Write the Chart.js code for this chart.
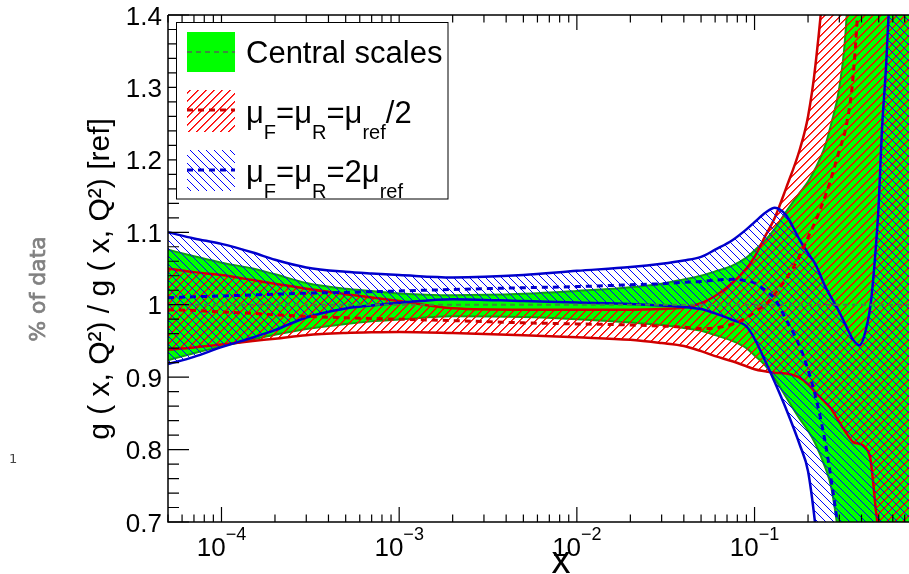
<!DOCTYPE html>
<html><head><meta charset="utf-8">
<script src="https://cdn.jsdelivr.net/npm/chart.js@4.4.0/dist/chart.umd.min.js"></script>
<style>html,body{margin:0;padding:0;background:#fff;overflow:hidden}#wrap{position:relative;width:909px;height:574px}</style>
</head><body><div id="wrap"><canvas id="c" width="909" height="574"></canvas></div>
<script>
// ---- data ----
const xGrid = [5e-5,7e-5,1e-4,1.5e-4,2e-4,3e-4,5e-4,7e-4,1e-3,2e-3,5e-3,1e-2,2e-2,3e-2,4e-2,5e-2,6e-2,7.5e-2,0.09,0.1,0.115,0.13,0.15,0.18,0.2,0.22,0.25,0.27,0.3,0.33,0.36,0.39,0.42,0.45,0.48,0.5,0.52,0.55,0.6,0.74];
const greenUp  = [1.076,1.067,1.058,1.050,1.042,1.030,1.022,1.019,1.0155,1.013,1.015,1.019,1.024,1.029,1.035,1.040,1.046,1.054,1.065,1.075,1.089,1.105,1.128,1.155,1.170,1.188,1.22,1.25,1.30,1.40,1.65,1.9,2.0,2.0,2.0,2.0,2.0,2.0,2.0,2.0];
const greenLo  = [0.9234,0.933,0.9425,0.952,0.9585,0.9665,0.9735,0.977,0.9795,0.984,0.983,0.980,0.9755,0.972,0.968,0.964,0.958,0.950,0.940,0.930,0.916,0.898,0.873,0.842,0.826,0.808,0.775,0.748,0.67,0.55,0.4,0.4,0.4,0.4,0.4,0.4,0.4,0.4,0.4,0.4];
const greenMid = [1,1,1,1,1,1,1,1,1,1,1,1,1,1,1,1,1,1,1,1,1,1,1,1,1,1,1,1,1,1,1,1,1,1,1,1,1,1,1,1];
const redUp    = [1.050,1.045,1.041,1.034,1.029,1.022,1.0146,1.010,1.005,0.995,0.993,0.993,0.993,0.994,0.996,1.002,1.012,1.030,1.050,1.066,1.095,1.120,1.160,1.215,1.260,1.33,1.48,1.65,1.9,2.0,2.0,2.0,2.0,2.0,2.0,2.0,2.0,2.0,2.0,2.0];
const redLo    = [0.938,0.941,0.945,0.950,0.953,0.958,0.961,0.962,0.9625,0.961,0.958,0.955,0.9515,0.947,0.943,0.936,0.929,0.922,0.915,0.911,0.908,0.906,0.905,0.899,0.890,0.879,0.865,0.856,0.838,0.822,0.810,0.808,0.803,0.785,0.72,0.68,0.6,0.5,0.4,0.3];
const redMid   = [0.993,0.992,0.990,0.988,0.986,0.984,0.982,0.981,0.980,0.978,0.975,0.9735,0.972,0.9705,0.969,0.967,0.968,0.973,0.982,0.990,1.0,1.015,1.035,1.068,1.093,1.115,1.15,1.175,1.213,1.25,1.32,1.46,1.7,2.0,2.0,2.0,2.0,2.0,2.0,2.0];
const blueUp   = [1.100,1.0915,1.084,1.072,1.062,1.0515,1.0454,1.043,1.041,1.0377,1.041,1.0468,1.052,1.0565,1.061,1.066,1.076,1.089,1.104,1.114,1.127,1.134,1.124,1.089,1.071,1.056,1.025,1.01,0.99,0.969,0.951,0.944,0.962,1.0,1.075,1.14,1.237,1.33,1.52,2.0];
const blueLo   = [0.918,0.928,0.9414,0.9548,0.9649,0.9824,0.9948,0.999,1.0026,1.0077,1.005,1.003,1.001,0.999,0.997,0.994,0.988,0.979,0.970,0.953,0.922,0.893,0.857,0.806,0.770,0.695,0.56,0.45,0.4,0.4,0.4,0.4,0.4,0.4,0.4,0.4,0.4,0.4,0.4,0.4];
const blueMid  = [1.0095,1.011,1.012,1.0135,1.0145,1.016,1.017,1.018,1.019,1.021,1.0235,1.025,1.0275,1.029,1.031,1.032,1.034,1.035,1.033,1.03,1.02,1.008,0.98,0.942,0.91,0.874,0.81,0.758,0.675,0.55,0.4,0.4,0.4,0.4,0.4,0.4,0.4,0.4,0.4,0.4];
const yTickVals   = [0.7,0.8,0.9,1.0,1.1,1.2,1.3,1.4];
const yTickLabels = ['0.7','0.8','0.9','1','1.1','1.2','1.3','1.4'];
const xDecades    = [1e-4,1e-3,1e-2,1e-1];
const xDecadeExp  = ['\u22124','\u22123','\u22122','\u22121'];
const legendLabels = ['Central scales'];

const FONT = '"Liberation Sans", Arial, Helvetica, sans-serif';
const canvas = document.getElementById('c');
const ctx = canvas.getContext('2d');

function hatch(r, g0, b, dir, soft){
  const s = 8, c = document.createElement('canvas'); c.width = s; c.height = s;
  const g = c.getContext('2d');
  for (let i = 0; i < s; i++) {
    const y = dir > 0 ? s - 1 - i : i;
    g.fillStyle = `rgb(${r},${g0},${b})`; g.fillRect(i, y, 1, 1);
    if (soft > 0) { g.fillStyle = `rgba(${r},${g0},${b},${soft})`; g.fillRect((i + 1) % s, y, 1, 1); }
  }
  return ctx.createPattern(c, 'repeat');
}
const redHatch = hatch(255, 0, 0, 1, 0.75);
const blueHatch = hatch(0, 0, 255, -1, 0);

const pts = arr => xGrid.map((x,i)=>({x, y: arr[i]}));
const base = {pointRadius:0, cubicInterpolationMode:'monotone', clip:0, fill:false};

const datasets = [
  {...base, label:'gUp', data:pts(greenUp), borderColor:'#10a010', borderWidth:2, backgroundColor:'#00ff00', fill:1, order:30},
  {...base, label:'gLo', data:pts(greenLo), borderColor:'#10a010', borderWidth:2, order:29},
  {...base, label:'rUp', data:pts(redUp), borderColor:'#d00000', borderWidth:2.5, backgroundColor:redHatch, fill:3, order:28},
  {...base, label:'rLo', data:pts(redLo), borderColor:'#d00000', borderWidth:2.5, order:27},
  {...base, label:'bUp', data:pts(blueUp), borderColor:'#0000cc', borderWidth:2.5, backgroundColor:blueHatch, fill:5, order:26},
  {...base, label:'bLo', data:pts(blueLo), borderColor:'#0000cc', borderWidth:2.5, order:25},
  {...base, label:'gMid', data:pts(greenMid), borderColor:'#3d8b3d', borderWidth:2, borderDash:[5,4], order:24},
  {...base, label:'rMid', data:pts(redMid), borderColor:'#cc0000', borderWidth:3, borderDash:[6,5], order:23},
  {...base, label:'bMid', data:pts(blueMid), borderColor:'#0000cc', borderWidth:3, borderDash:[6,5], order:22}
];

function rich(c, parts, x, y, mainF, subF, off){
  for (const [t, sub] of parts){
    c.font = sub ? subF : mainF;
    c.fillText(t, x, y + (sub ? off : 0));
    x += c.measureText(t).width;
  }
}

const overlay = {
  id:'overlay',
  afterDraw(chart){
    const c = chart.ctx, a = chart.chartArea, xs = chart.scales.x, ys = chart.scales.y;
    c.save();
    c.strokeStyle = '#000'; c.lineWidth = 1.5; c.setLineDash([]);
    c.beginPath();
    c.moveTo(a.left, a.top); c.lineTo(a.left, a.bottom); c.lineTo(a.right, a.bottom);
    c.moveTo(a.left, a.top); c.lineTo(a.right, a.top);
    c.stroke();
    c.lineWidth = 1.2;
    c.beginPath();
    for (let k = 0; k <= 35; k++){
      const v = 0.7 + k*0.02; const py = ys.getPixelForValue(v);
      const len = (k % 5 === 0) ? 21 : 11;
      c.moveTo(a.left, py); c.lineTo(a.left + len, py);
    }
    for (let e = -5; e <= 0; e++){
      for (let m = 1; m <= 9; m++){
        const v = m * Math.pow(10, e);
        if (v < xs.min || v > xs.max) continue;
        const px = xs.getPixelForValue(v);
        const len = m === 1 ? 15 : 7.5;
        c.moveTo(px, a.bottom); c.lineTo(px, a.bottom - len);
        c.moveTo(px, a.top); c.lineTo(px, a.top + len);
      }
    }
    c.stroke();
    c.fillStyle = '#000'; c.font = '26px ' + FONT; c.textAlign = 'right'; c.textBaseline = 'alphabetic';
    yTickVals.forEach((v,i)=>{ c.fillText(yTickLabels[i], a.left - 6, ys.getPixelForValue(v) + 9.5); });
    c.textAlign = 'left';
    xDecades.forEach((v,i)=>{
      const px = xs.getPixelForValue(v);
      c.font = '26px ' + FONT; const w1 = c.measureText('10').width;
      c.font = '18px ' + FONT; const w2 = c.measureText(xDecadeExp[i]).width;
      const s = px - (w1 + w2)/2;
      c.font = '26px ' + FONT; c.fillText('10', s, 556);
      c.font = '18px ' + FONT; c.fillText(xDecadeExp[i], s + w1, 540);
    });
    c.font = '38px ' + FONT; c.textAlign = 'center';
    c.fillText('x', 561, 573);
    c.save(); c.translate(99, 279); c.rotate(-Math.PI/2);
    c.font = '30px ' + FONT; c.fillText('g ( x, Q\u00b2) / g ( x, Q\u00b2) [ref]', 0, 10);
    c.restore();
    c.save(); c.translate(37, 289); c.rotate(-Math.PI/2);
    c.fillStyle = '#808080'; c.strokeStyle = '#808080'; c.lineWidth = 0.7;
    c.font = '22px "DejaVu Sans", sans-serif';
    c.fillText('% of data', 0, 8); c.strokeText('% of data', 0, 8);
    c.restore();
    c.fillStyle = '#444'; c.font = '13px "DejaVu Sans", sans-serif'; c.textAlign = 'left';
    c.fillText('1', 9, 463);
    // legend
    c.fillStyle = '#fff'; c.fillRect(176.5, 22.5, 271.5, 176.5);
    c.strokeStyle = '#000'; c.lineWidth = 1; c.strokeRect(176.5, 22.5, 271.5, 176.5);
    c.fillStyle = '#00ff00'; c.fillRect(187, 32, 48, 40);
    c.fillStyle = redHatch; c.fillRect(187, 90, 48, 42);
    c.fillStyle = blueHatch; c.fillRect(187, 150, 48, 41);
    c.lineWidth = 2; c.setLineDash([5,4]); c.strokeStyle = '#3d8b3d';
    c.beginPath(); c.moveTo(187, 52); c.lineTo(235, 52); c.stroke();
    c.lineWidth = 3; c.setLineDash([6,5]); c.strokeStyle = '#cc0000';
    c.beginPath(); c.moveTo(187, 110); c.lineTo(235, 110); c.stroke();
    c.strokeStyle = '#0000cc';
    c.beginPath(); c.moveTo(187, 170); c.lineTo(235, 170); c.stroke();
    c.setLineDash([]);
    c.fillStyle = '#000'; c.textAlign = 'left';
    const MF = '31px ' + FONT, SF = '20px ' + FONT;
    c.font = MF; c.fillText(legendLabels[0], 246, 63);
    rich(c, [['\u03bc',0],['F',1],['=',0],['\u03bc',0],['R',1],['=',0],['\u03bc',0],['ref',1],['/2',0]], 246, 123, MF, SF, 16);
    rich(c, [['\u03bc',0],['F',1],['=',0],['\u03bc',0],['R',1],['=',0],['2\u03bc',0],['ref',1]], 246, 182, MF, SF, 16);
    c.restore();
  }
};

new Chart(ctx, {
  type:'line',
  data:{datasets},
  options:{
    responsive:false, animation:false, devicePixelRatio:1,
    layout:{padding:{left:168, top:15, right:0, bottom:52}},
    plugins:{legend:{display:false}, tooltip:{enabled:false}},
    scales:{
      x:{type:'logarithmic', min:5e-5, max:0.74, display:false},
      y:{type:'linear', min:0.7, max:1.4, display:false}
    }
  },
  plugins:[overlay]
});
</script></body></html>
